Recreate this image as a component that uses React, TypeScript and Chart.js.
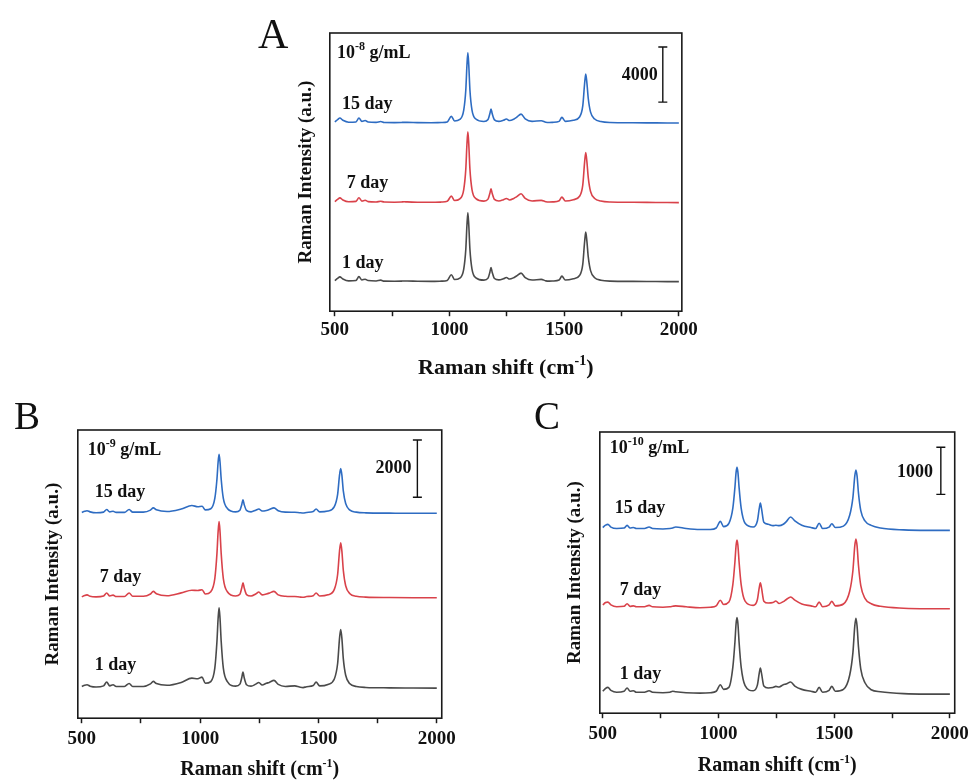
import { useEffect, useRef } from 'react';
import { Chart, registerables } from 'chart.js';

Chart.register(...registerables);

const SERIF = "'Liberation Serif', 'Times New Roman', Times, serif";

// ---------- shared data ----------
const RAMAN_SHIFT = [
  500, 512, 522, 535, 560, 592, 605, 618, 632, 645,
  680, 700, 715, 760, 790, 802, 815, 860, 920, 965,
  990, 1008, 1022, 1045, 1062, 1071, 1076, 1080, 1084, 1089,
  1098, 1115, 1150, 1168, 1176, 1181, 1186, 1196, 1215, 1235,
  1248, 1262, 1280, 1292, 1312, 1330, 1360, 1400, 1420, 1435,
  1450, 1478, 1490, 1505, 1540, 1567, 1581, 1589, 1594, 1599,
  1605, 1615, 1633, 1660, 1700, 1800, 1900, 2000,
];
const X_TICKS = [500, 750, 1000, 1250, 1500, 1750, 2000];
const X_TICK_LABELS = ['500', '', '1000', '', '1500', '', '2000'];
const DAY_LABELS = ['15 day', '7 day', '1 day'];
const SERIES_COLORS = ['#2e6cc2', '#d9424a', '#4a4a4a'];

// ---------- panel A: 10^-8 g/mL ----------
const A_15 = [
  80, 250, 360, 200, 60, 80, 360, 120, 180, 80,
  50, 110, 40, 30, 40, 50, 50, 30, 20, 40,
  80, 480, 150, 260, 940, 2400, 4200, 5100, 4200, 2400,
  940, 290, 110, 260, 690, 1020, 690, 230, 120, 200,
  290, 180, 280, 410, 650, 300, 120, 170, 60, 40,
  50, 120, 410, 120, 200, 440, 1240, 2850, 3560, 2920,
  1780, 790, 290, 110, 40, 20, 10, 0,
];
const A_7 = [
  70, 230, 340, 190, 60, 90, 350, 110, 170, 70,
  40, 100, 40, 30, 40, 60, 50, 30, 20, 40,
  90, 470, 150, 270, 950, 2430, 4240, 5140, 4240, 2430,
  950, 290, 110, 250, 680, 1000, 680, 230, 120, 210,
  300, 190, 300, 420, 640, 300, 120, 160, 60, 40,
  50, 130, 400, 120, 210, 460, 1270, 2920, 3640, 2980,
  1820, 810, 300, 110, 40, 20, 10, 0,
];
const A_1 = [
  80, 240, 350, 200, 60, 90, 370, 120, 180, 80,
  50, 110, 40, 30, 40, 50, 50, 30, 20, 40,
  90, 500, 160, 260, 920, 2350, 4100, 5000, 4100, 2350,
  920, 280, 110, 260, 690, 1020, 690, 230, 130, 210,
  300, 190, 290, 410, 620, 300, 120, 170, 60, 40,
  50, 120, 400, 120, 210, 450, 1260, 2880, 3600, 2950,
  1800, 800, 290, 110, 40, 20, 10, 0,
];
const A_OFFSETS = [13670, 7890, 2145];
const A_X_RANGE = [478, 2013];
const A_Y_RANGE = [0, 20210];
const A_SCALE_BAR_X = 1930;
const A_SCALE_BAR_Y = [15190, 19190];
const A_SCALE_TEXT = '4000';
const A_SCALE_TEXT_POS = [1908, 17160];
const A_CONC_EXP = '-8';
const A_CONC_POS = [509, 18760];
const A_LABEL_X = [531, 552, 531];
const A_LABEL_Y = [15050, 9300, 3490];

// ---------- panel B: 10^-9 g/mL ----------
const B_15 = [
  30, 70, 90, 50, 20, 40, 130, 50, 70, 30,
  30, 130, 40, 40, 110, 190, 120, 60, 150, 270,
  230, 245, 120, 160, 520, 1190, 1790, 2060, 1790, 1190,
  520, 170, 50, 110, 310, 470, 310, 100, 50, 110,
  150, 80, 100, 130, 190, 90, 40, 35, 20, 10,
  30, 60, 150, 50, 80, 230, 660, 1330, 1560, 1330,
  780, 340, 110, 40, 15, 5, 0, 0,
];
const B_7 = [
  30, 80, 100, 50, 30, 60, 165, 60, 90, 40,
  40, 165, 50, 50, 130, 220, 140, 70, 170, 260,
  250, 280, 130, 210, 670, 1540, 2310, 2660, 2310, 1540,
  670, 210, 60, 120, 350, 525, 350, 110, 60, 130,
  200, 100, 130, 160, 220, 100, 50, 40, 25, 15,
  40, 70, 165, 60, 100, 290, 810, 1630, 1920, 1630,
  960, 420, 140, 50, 20, 5, 0, 0,
];
const B_1 = [
  60, 100, 117, 70, 40, 80, 210, 80, 117, 60,
  60, 165, 60, 60, 150, 235, 160, 100, 200, 350,
  330, 385, 170, 230, 700, 1630, 2440, 2810, 2440, 1630,
  700, 230, 70, 140, 370, 560, 370, 120, 70, 140,
  200, 110, 170, 200, 270, 130, 60, 80, 40, 20,
  50, 90, 210, 80, 130, 320, 860, 1740, 2050, 1740,
  1030, 450, 150, 60, 25, 10, 5, 0,
];
const B_OFFSETS = [7160, 4210, 1050];
const B_X_RANGE = [483, 2021];
const B_Y_RANGE = [0, 10070];
const B_SCALE_BAR_X = 1918;
const B_SCALE_BAR_Y = [7720, 9720];
const B_SCALE_TEXT = '2000';
const B_SCALE_TEXT_POS = [1893, 8740];
const B_CONC_EXP = '-9';
const B_CONC_POS = [525, 9370];
const B_LABEL_X = [555, 576, 555];
const B_LABEL_Y = [7900, 4910, 1830];

// ---------- panel C: 10^-10 g/mL ----------
const C_15 = [
  60, 110, 128, 70, 40, 50, 106, 50, 60, 40,
  40, 70, 40, 30, 40, 50, 70, 40, 20, 20,
  50, 190, 80, 150, 470, 910, 1230, 1335, 1230, 910,
  470, 150, 70, 200, 460, 580, 460, 170, 130, 100,
  110, 100, 130, 180, 285, 200, 110, 60, 40, 150,
  40, 70, 140, 60, 90, 320, 700, 1150, 1280, 1150,
  790, 420, 200, 106, 50, 10, 0, 0,
];
const C_7 = [
  80, 130, 140, 80, 40, 50, 106, 50, 60, 40,
  40, 70, 40, 30, 40, 50, 60, 40, 20, 30,
  60, 178, 90, 140, 510, 990, 1340, 1455, 1340, 990,
  510, 160, 70, 190, 440, 547, 440, 160, 120, 130,
  163, 110, 150, 190, 248, 180, 100, 60, 40, 140,
  40, 80, 156, 60, 100, 370, 810, 1330, 1477, 1330,
  920, 490, 220, 106, 50, 10, 0, 0,
];
const C_1 = [
  60, 120, 142, 80, 40, 60, 128, 60, 70, 40,
  40, 71, 40, 30, 40, 60, 50, 30, 20, 30,
  60, 199, 100, 142, 570, 1100, 1490, 1620, 1490, 1100,
  570, 180, 70, 190, 440, 554, 440, 170, 130, 140,
  163, 150, 200, 213, 256, 170, 100, 60, 40, 142,
  40, 80, 163, 60, 100, 400, 880, 1440, 1605, 1440,
  1000, 530, 240, 92, 50, 10, 0, 0,
];
const C_OFFSETS = [3875, 2215, 405];
const C_X_RANGE = [487, 2021];
const C_Y_RANGE = [0, 5960];
const C_SCALE_BAR_X = 1961;
const C_SCALE_BAR_Y = [4638, 5638];
const C_SCALE_TEXT = '1000';
const C_SCALE_TEXT_POS = [1927, 5106];
const C_CONC_EXP = '-10';
const C_CONC_POS = [530, 5617];
const C_LABEL_X = [552, 573, 573];
const C_LABEL_Y = [4340, 2596, 830];

type PanelProps = {
  letter: string;
  box: { left: number; top: number; width: number; height: number };
  letterPos: { left: number; top: number; size: number };
  padding: { left: number; top: number; right: number; bottom: number };
  yTitlePad: number;
  tickPad: number;
  series: number[][];
  offsets: number[];
  xRange: number[];
  yRange: number[];
  scaleBarX: number;
  scaleBarY: number[];
  scaleText: string;
  scaleTextPos: number[];
  concExp: string;
  concPos: number[];
  labelX: number[];
  labelY: number[];
  titleSize: number;
  titleOffset: number;
};

function Panel(p: PanelProps) {
  const ref = useRef<HTMLCanvasElement | null>(null);
  useEffect(() => {
    if (!ref.current) return;
    const datasets: any[] = p.series.map((vals, i) => ({
      data: RAMAN_SHIFT.map((x, j) => ({ x, y: p.offsets[i] + vals[j] })),
      borderColor: SERIES_COLORS[i],
      borderWidth: 1.6,
      pointRadius: 0,
      cubicInterpolationMode: 'monotone',
      fill: false,
    }));
    datasets.push({
      data: [
        { x: p.scaleBarX, y: p.scaleBarY[0] },
        { x: p.scaleBarX, y: p.scaleBarY[1] },
      ],
      borderColor: '#111',
      borderWidth: 1.4,
      pointStyle: 'line',
      pointRadius: 4.5,
      pointBorderWidth: 1.4,
      pointBorderColor: '#111',
      tension: 0,
    });

    const decor = {
      id: 'decor',
      afterDatasetsDraw(chart: any) {
        const { ctx, chartArea: a, scales } = chart;
        const xs = scales.x;
        const ys = scales.y;
        ctx.save();
        ctx.strokeStyle = '#1a1a1a';
        ctx.lineWidth = 1.6;
        ctx.strokeRect(a.left, a.top, a.right - a.left, a.bottom - a.top);
        ctx.fillStyle = '#111';
        ctx.textBaseline = 'middle';
        ctx.textAlign = 'left';
        ctx.font = `bold 18px ${SERIF}`;
        p.labelX.forEach((lx, i) => {
          ctx.fillText(DAY_LABELS[i], xs.getPixelForValue(lx), ys.getPixelForValue(p.labelY[i]));
        });
        ctx.textAlign = 'right';
        ctx.fillText(
          p.scaleText,
          xs.getPixelForValue(p.scaleTextPos[0]),
          ys.getPixelForValue(p.scaleTextPos[1])
        );
        // concentration label with superscript
        ctx.textAlign = 'left';
        let cx = xs.getPixelForValue(p.concPos[0]);
        const cy = ys.getPixelForValue(p.concPos[1]);
        ctx.font = `bold 18px ${SERIF}`;
        ctx.fillText('10', cx, cy);
        cx += ctx.measureText('10').width;
        ctx.font = `bold 12px ${SERIF}`;
        ctx.fillText(p.concExp, cx, cy - 6);
        cx += ctx.measureText(p.concExp).width;
        ctx.font = `bold 18px ${SERIF}`;
        ctx.fillText(' g/mL', cx, cy);
        // x-axis title with superscript
        const tSize = p.titleSize;
        const main = 'Raman shift (cm';
        const sup = '-1';
        const end = ')';
        ctx.font = `bold ${tSize}px ${SERIF}`;
        const w1 = ctx.measureText(main).width;
        const w3 = ctx.measureText(end).width;
        ctx.font = `bold ${Math.round(tSize * 0.62)}px ${SERIF}`;
        const w2 = ctx.measureText(sup).width;
        const total = w1 + w2 + w3;
        let tx = (a.left + a.right) / 2 - total / 2;
        const ty = a.bottom + p.titleOffset;
        ctx.font = `bold ${tSize}px ${SERIF}`;
        ctx.fillText(main, tx, ty);
        tx += w1;
        ctx.font = `bold ${Math.round(tSize * 0.62)}px ${SERIF}`;
        ctx.fillText(sup, tx, ty - tSize * 0.32);
        tx += w2;
        ctx.font = `bold ${tSize}px ${SERIF}`;
        ctx.fillText(end, tx, ty);
        ctx.restore();
      },
    };

    const chart = new Chart(ref.current, {
      type: 'line',
      data: { datasets },
      plugins: [decor],
      options: {
        animation: false,
        responsive: false,
        maintainAspectRatio: false,
        layout: { padding: p.padding },
        plugins: { legend: { display: false }, tooltip: { enabled: false } },
        scales: {
          x: {
            type: 'linear',
            min: p.xRange[0],
            max: p.xRange[1],
            afterBuildTicks: (axis: any) => {
              axis.ticks = X_TICKS.map((v) => ({ value: v }));
            },
            ticks: {
              autoSkip: false,
              maxRotation: 0,
              padding: p.tickPad,
              color: '#111',
              font: { family: SERIF, size: 19, weight: 'bold' },
              callback: (_v: any, i: number) => X_TICK_LABELS[i],
            },
            grid: {
              display: true,
              drawOnChartArea: false,
              drawTicks: true,
              tickLength: 5,
              tickColor: '#1a1a1a',
              tickWidth: 1.5,
            },
            border: { display: false },
          },
          y: {
            type: 'linear',
            min: p.yRange[0],
            max: p.yRange[1],
            ticks: { display: false },
            grid: { display: false, drawTicks: false },
            border: { display: false },
            title: {
              display: true,
              text: 'Raman Intensity (a.u.)',
              color: '#111',
              font: { family: SERIF, size: 19, weight: 'bold' },
              padding: { top: 0, bottom: p.yTitlePad },
            },
          },
        },
      } as any,
    });
    return () => chart.destroy();
  }, []);

  return (
    <>
      <div
        style={{
          position: 'absolute',
          left: p.box.left,
          top: p.box.top,
          width: p.box.width,
          height: p.box.height,
        }}
      >
        <canvas ref={ref} width={p.box.width} height={p.box.height} style={{ display: 'block' }} />
      </div>
      <div
        style={{
          position: 'absolute',
          left: p.letterPos.left,
          top: p.letterPos.top,
          fontFamily: SERIF,
          fontSize: p.letterPos.size,
          lineHeight: 1,
          color: '#111',
        }}
      >
        {p.letter}
      </div>
    </>
  );
}

export default function App() {
  return (
    <div
      style={{
        position: 'absolute',
        left: 0,
        top: 0,
        width: 973,
        height: 780,
        background: '#fff',
        overflow: 'hidden',
      }}
    >
      <Panel
        letter="A"
        box={{ left: 250, top: 0, width: 450, height: 385 }}
        letterPos={{ left: 258, top: 13, size: 42 }}
        padding={{ left: 45, top: 33, right: 17, bottom: 42 }}
        yTitlePad={12}
        tickPad={2}
        series={[A_15, A_7, A_1]}
        offsets={A_OFFSETS}
        xRange={A_X_RANGE}
        yRange={A_Y_RANGE}
        scaleBarX={A_SCALE_BAR_X}
        scaleBarY={A_SCALE_BAR_Y}
        scaleText={A_SCALE_TEXT}
        scaleTextPos={A_SCALE_TEXT_POS}
        concExp={A_CONC_EXP}
        concPos={A_CONC_POS}
        labelX={A_LABEL_X}
        labelY={A_LABEL_Y}
        titleSize={22}
        titleOffset={57}
      />
      <Panel
        letter="B"
        box={{ left: 0, top: 390, width: 460, height: 390 }}
        letterPos={{ left: 14, top: 396, size: 39 }}
        padding={{ left: 42, top: 40, right: 16, bottom: 26 }}
        yTitlePad={13}
        tickPad={4}
        series={[B_15, B_7, B_1]}
        offsets={B_OFFSETS}
        xRange={B_X_RANGE}
        yRange={B_Y_RANGE}
        scaleBarX={B_SCALE_BAR_X}
        scaleBarY={B_SCALE_BAR_Y}
        scaleText={B_SCALE_TEXT}
        scaleTextPos={B_SCALE_TEXT_POS}
        concExp={B_CONC_EXP}
        concPos={B_CONC_POS}
        labelX={B_LABEL_X}
        labelY={B_LABEL_Y}
        titleSize={20}
        titleOffset={52}
      />
      <Panel
        letter="C"
        box={{ left: 520, top: 390, width: 453, height: 390 }}
        letterPos={{ left: 534, top: 396, size: 39 }}
        padding={{ left: 44, top: 42, right: 10, bottom: 31 }}
        yTitlePad={13}
        tickPad={4}
        series={[C_15, C_7, C_1]}
        offsets={C_OFFSETS}
        xRange={C_X_RANGE}
        yRange={C_Y_RANGE}
        scaleBarX={C_SCALE_BAR_X}
        scaleBarY={C_SCALE_BAR_Y}
        scaleText={C_SCALE_TEXT}
        scaleTextPos={C_SCALE_TEXT_POS}
        concExp={C_CONC_EXP}
        concPos={C_CONC_POS}
        labelX={C_LABEL_X}
        labelY={C_LABEL_Y}
        titleSize={20}
        titleOffset={53}
      />
    </div>
  );
}
